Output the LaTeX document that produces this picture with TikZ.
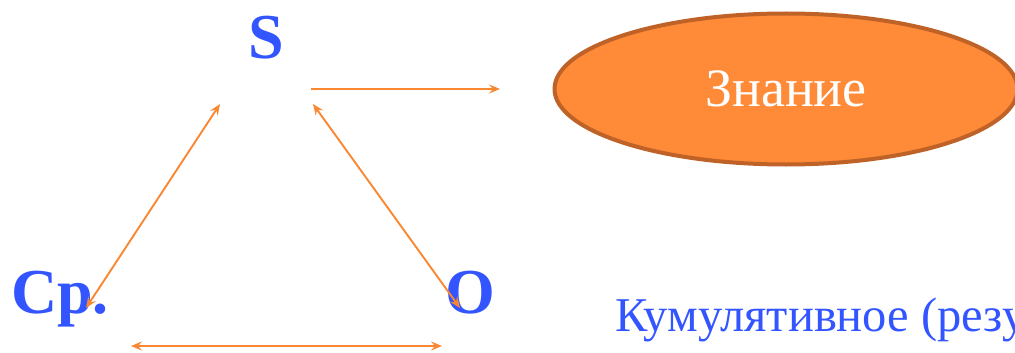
\documentclass[tikz,border=0pt]{standalone}
\usepackage{fontspec}
\newfontfamily\serf{Liberation Serif}
\usetikzlibrary{arrows.meta,shapes.geometric}
\definecolor{lblue}{RGB}{51,85,255}
\definecolor{arr}{RGB}{250,135,50}
\definecolor{efill}{RGB}{255,138,56}
\definecolor{edraw}{RGB}{190,98,40}
\newcommand{\bigfont}{\fontsize{64}{64}\selectfont\serf\bfseries}
\newcommand{\knowfont}{\fontsize{54}{54}\selectfont\serf}
\newcommand{\cumfont}{\fontsize{48.5}{48.5}\selectfont\serf}
\tikzset{
  big/.style={text=lblue, inner sep=0pt, anchor=base},
  tip/.style={Stealth[length=11pt,width=9pt,inset=4pt]},
  conn/.style={draw=arr, line width=1.9pt, -{Stealth[length=11pt,width=9pt,inset=4pt]}},
  dconn/.style={draw=arr, line width=1.9pt, {Stealth[length=11pt,width=9pt,inset=4pt]}-{Stealth[length=11pt,width=9pt,inset=4pt]}},
  know/.style={ellipse, fill=efill, draw=edraw, line width=4pt, minimum width=463pt, minimum height=151pt, inner sep=0pt,
    text=white},
  cum/.style={text=lblue, inner sep=0pt, anchor=base west}
}
\begin{document}
\begin{tikzpicture}[x=1pt,y=-1pt]
\useasboundingbox (0,0) rectangle (1015,353);
\begin{scope}
\clip (0,0) rectangle (1015,353);
\node[big] (S) at (266,59) {\bigfont S};
\node[big, anchor=base west] (Cp) at (11,313) {\bigfont Ср.};
\node[big] (O) at (470,313) {\bigfont O};
\node[know] (K) at (786,89) {\knowfont Знание};
\node[cum] (C) at (615,331) {\cumfont Кумулятивное (резу};
\coordinate (s1) at (311,89);
\coordinate (s2) at (500,89);
\coordinate (a1) at (220,104);
\coordinate (a2) at (86,308);
\coordinate (b1) at (313,104);
\coordinate (b2) at (460,308);
\coordinate (c1) at (131,346);
\coordinate (c2) at (442,346);
\draw[conn] (s1) -- (s2);
\draw[dconn] (a1) -- (a2);
\draw[dconn] (b1) -- (b2);
\draw[dconn] (c1) -- (c2);
\end{scope}
\end{tikzpicture}
\end{document}
